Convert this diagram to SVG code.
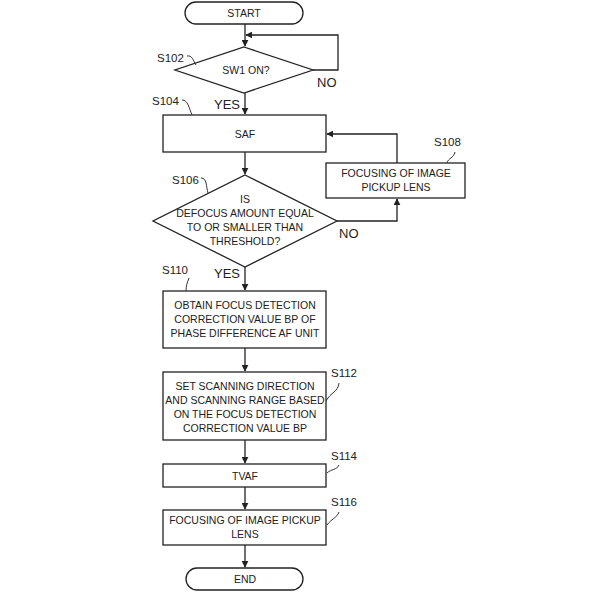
<svg xmlns="http://www.w3.org/2000/svg" width="592" height="601" viewBox="0 0 592 601">
<defs>
<style>
.shape{fill:#fff;stroke:#222;stroke-width:1.3}
.line{fill:none;stroke:#222;stroke-width:1.3}
.lead{fill:none;stroke:#333;stroke-width:1}
.t{font-family:"Liberation Sans",Arial,sans-serif;font-size:10.5px;fill:#222;text-anchor:middle}
.lbl{font-family:"Liberation Sans",Arial,sans-serif;font-size:11.5px;fill:#222}
.yn{font-family:"Liberation Sans",Arial,sans-serif;font-size:13px;fill:#222}
</style>
<marker id="arr" viewBox="0 0 10 10" refX="9" refY="5" markerWidth="7" markerHeight="7" markerUnits="userSpaceOnUse" orient="auto">
<path d="M0,0 L10,5 L0,10 z" fill="#222"/>
</marker>
</defs>
<rect width="592" height="601" fill="#fff"/>
<g id="connectors">
<line class="line" x1="245" y1="24" x2="245" y2="46" marker-end="url(#arr)"/>
<polyline class="line" points="313,70 338,70 338,35 246,35" marker-end="url(#arr)"/>
<line class="line" x1="245" y1="93" x2="245" y2="114" marker-end="url(#arr)"/>
<line class="line" x1="245" y1="152" x2="245" y2="174" marker-end="url(#arr)"/>
<polyline class="line" points="337,221 397,221 397,199" marker-end="url(#arr)"/>
<polyline class="line" points="397,163 397,134 327,134" marker-end="url(#arr)"/>
<line class="line" x1="245" y1="267" x2="245" y2="290" marker-end="url(#arr)"/>
<line class="line" x1="245" y1="348" x2="245" y2="371" marker-end="url(#arr)"/>
<line class="line" x1="245" y1="440" x2="245" y2="463" marker-end="url(#arr)"/>
<line class="line" x1="245" y1="487" x2="245" y2="509" marker-end="url(#arr)"/>
<line class="line" x1="245" y1="545" x2="245" y2="567" marker-end="url(#arr)"/>
</g>
<g id="start">
<rect class="shape" x="185" y="2" width="118" height="22" rx="11"/>
<text class="t" x="244" y="17">START</text>
</g>
<g id="s102">
<polygon class="shape" points="244,47 313,70 244,93 175,70"/>
<text class="t" x="246" y="74">SW1 ON?</text>
<text class="lbl" x="157" y="62">S102</text>
<path class="lead" d="M187,56 C192,55 193,60 196,65"/>
<text class="yn" x="317" y="87">NO</text>
<text class="yn" x="214" y="109">YES</text>
</g>
<g id="s104">
<rect class="shape" x="163" y="115" width="163" height="37"/>
<text class="t" x="245" y="138">SAF</text>
<text class="lbl" x="152" y="105">S104</text>
<path class="lead" d="M182,100 C188,100 189,108 192,115"/>
</g>
<g id="s106">
<polygon class="shape" points="245,175 337,221 245,267 153,221"/>
<text class="t" x="245" y="203">IS</text>
<text class="t" x="245" y="217">DEFOCUS AMOUNT EQUAL</text>
<text class="t" x="245" y="231">TO OR SMALLER THAN</text>
<text class="t" x="245" y="245">THRESHOLD?</text>
<text class="lbl" x="172" y="184">S106</text>
<path class="lead" d="M201,178 C207,178 206,186 208,193"/>
<text class="yn" x="339" y="238">NO</text>
<text class="yn" x="214" y="278">YES</text>
</g>
<g id="s108">
<rect class="shape" x="326" y="163" width="139" height="35"/>
<text class="t" x="396" y="177">FOCUSING OF IMAGE</text>
<text class="t" x="396" y="191">PICKUP LENS</text>
<text class="lbl" x="434" y="146">S108</text>
<path class="lead" d="M455,152 C454,158 448,158 447,163"/>
</g>
<g id="s110">
<rect class="shape" x="163" y="291" width="163" height="57"/>
<text class="t" x="245" y="309">OBTAIN FOCUS DETECTION</text>
<text class="t" x="245" y="323">CORRECTION VALUE BP OF</text>
<text class="t" x="245" y="337">PHASE DIFFERENCE AF UNIT</text>
<text class="lbl" x="162" y="274">S110</text>
<path class="lead" d="M189,278 C187,283 186,286 186,291"/>
</g>
<g id="s112">
<rect class="shape" x="163" y="372" width="163" height="68"/>
<text class="t" x="245" y="390">SET SCANNING DIRECTION</text>
<text class="t" x="245" y="404">AND SCANNING RANGE BASED</text>
<text class="t" x="245" y="418">ON THE FOCUS DETECTION</text>
<text class="t" x="245" y="432">CORRECTION VALUE BP</text>
<text class="lbl" x="331" y="377">S112</text>
<path class="lead" d="M339,383 C338,392 331,392 326,401"/>
</g>
<g id="s114">
<rect class="shape" x="163" y="464" width="163" height="23"/>
<text class="t" x="245" y="480">TVAF</text>
<text class="lbl" x="331" y="460">S114</text>
<path class="lead" d="M339,465 C337,470 331,469 327,473"/>
</g>
<g id="s116">
<rect class="shape" x="163" y="510" width="163" height="35"/>
<text class="t" x="245" y="524">FOCUSING OF IMAGE PICKUP</text>
<text class="t" x="245" y="538">LENS</text>
<text class="lbl" x="331" y="506">S116</text>
<path class="lead" d="M339,512 C337,518 331,519 327,525"/>
</g>
<g id="end">
<rect class="shape" x="186" y="568" width="117" height="22" rx="11"/>
<text class="t" x="245" y="583">END</text>
</g>
</svg>
